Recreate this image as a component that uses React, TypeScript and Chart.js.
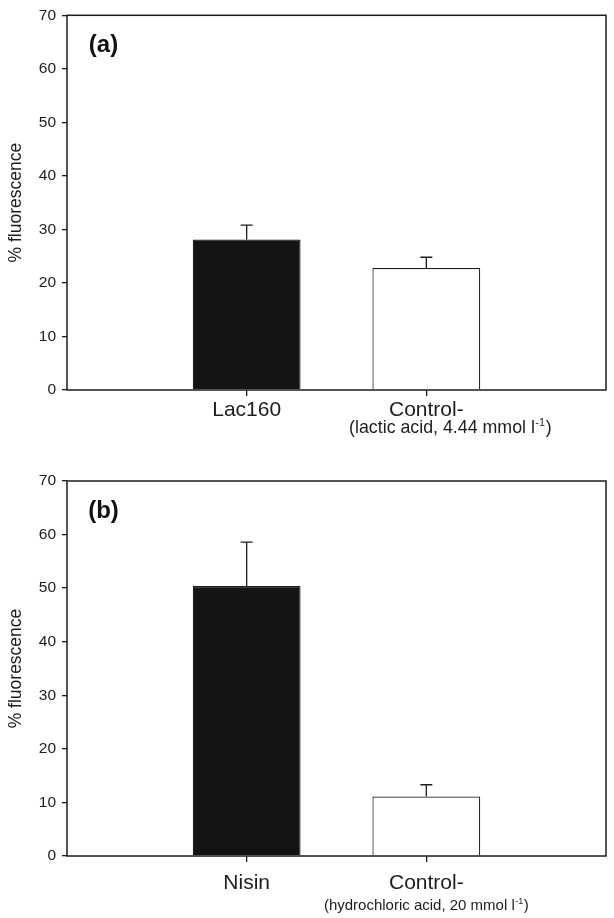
import React, { useEffect, useRef } from "react";
import { Chart, registerables } from "chart.js";

Chart.register(...registerables);

// ---------- data ----------
const categoriesA = ["Lac160", "Control-"];
const valuesA = [28.1, 22.8];
const errorsA = [2.7, 2.0];
const subLabelA = "(lactic acid, 4.44 mmol l";
const panelLabelA = "(a)";

const categoriesB = ["Nisin", "Control-"];
const valuesB = [50.4, 11.1];
const errorsB = [8.2, 2.2];
const subLabelB = "(hydrochloric acid, 20 mmol l";
const panelLabelB = "(b)";

const yTicks = [0, 10, 20, 30, 40, 50, 60, 70];
const yTitle = "% fluorescence";
const superscript = "-1";

const FAMILY = "'Liberation Sans', Arial, Helvetica, sans-serif";
const INK = "#1c1c1c";
const barColors = ["#141414", "#ffffff"];

type PanelProps = {
  top: number;
  height: number;
  padTop: number;
  xAxisH: number;
  labelPad: number;
  subOffset: number;
  subShift: number;
  subSize: number;
  categories: string[];
  values: number[];
  errors: number[];
  subLabel: string;
  panelLabel: string;
};

function Panel(p: PanelProps) {
  const ref = useRef<HTMLCanvasElement | null>(null);
  useEffect(() => {
    if (!ref.current) return;
    const overlay = {
      id: "overlay",
      afterDatasetsDraw(chart: any) {
        const ctx = chart.ctx;
        const ys = chart.scales.y;
        const meta = chart.getDatasetMeta(0);
        ctx.save();
        ctx.strokeStyle = INK;
        ctx.lineWidth = 1.3;
        meta.data.forEach((el: any, i: number) => {
          const v = p.values[i];
          const e = p.errors[i];
          const yBar = ys.getPixelForValue(v);
          const yTop = ys.getPixelForValue(v + e);
          ctx.beginPath();
          ctx.moveTo(el.x, yBar);
          ctx.lineTo(el.x, yTop);
          ctx.moveTo(el.x - 6, yTop);
          ctx.lineTo(el.x + 6, yTop);
          ctx.stroke();
        });
        ctx.restore();
      },
      afterDraw(chart: any) {
        const ctx = chart.ctx;
        const a = chart.chartArea;
        const xs = chart.scales.x;
        ctx.save();
        ctx.strokeStyle = INK;
        ctx.lineWidth = 1.5;
        ctx.strokeRect(a.left, a.top, a.right - a.left, a.bottom - a.top);
        // panel label
        ctx.fillStyle = "#111";
        ctx.font = `bold 24px ${FAMILY}`;
        ctx.textAlign = "center";
        ctx.textBaseline = "middle";
        ctx.fillText(p.panelLabel, a.left + 36.5, a.top + 30);
        // sub label under second category
        const mainFont = `${p.subSize}px ${FAMILY}`;
        const supFont = `${Math.round(p.subSize * 0.6)}px ${FAMILY}`;
        ctx.font = mainFont;
        const w1 = ctx.measureText(p.subLabel).width;
        const w3 = ctx.measureText(")").width;
        ctx.font = supFont;
        const w2 = ctx.measureText(superscript).width;
        const total = w1 + w2 + w3 + 1;
        const cx = xs.getPixelForValue(2) + p.subShift;
        const base = a.bottom + p.subOffset;
        let x = cx - total / 2;
        ctx.textAlign = "left";
        ctx.textBaseline = "alphabetic";
        ctx.fillStyle = INK;
        ctx.font = mainFont;
        ctx.fillText(p.subLabel, x, base);
        x += w1 + 0.5;
        ctx.font = supFont;
        ctx.fillText(superscript, x, base - p.subSize * 0.42);
        x += w2 + 0.5;
        ctx.font = mainFont;
        ctx.fillText(")", x, base);
        ctx.restore();
      },
    };
    const chart = new Chart(ref.current, {
      type: "bar",
      data: {
        datasets: [
          {
            data: p.values.map((v, i) => ({ x: i + 1, y: v })),
            backgroundColor: barColors,
            borderColor: INK,
            borderWidth: 1.2,
            barPercentage: 0.6,
            categoryPercentage: 1,
          },
        ],
      },
      options: {
        responsive: false,
        animation: false,
        devicePixelRatio: 1,
        layout: { padding: { top: p.padTop, right: 8, left: 0, bottom: 0 } },
        plugins: {
          legend: { display: false },
          tooltip: { enabled: false },
        },
        scales: {
          x: {
            type: "linear",
            min: 0,
            max: 3,
            offset: false,
            afterBuildTicks: (s: any) => {
              s.ticks = p.categories.map((_, i) => ({ value: i + 1 }));
            },
            afterFit: (s: any) => {
              s.height = p.xAxisH;
            },
            ticks: {
              callback: (v: any) => p.categories[Number(v) - 1] ?? "",
              font: { family: FAMILY, size: 21 },
              color: INK,
              padding: p.labelPad,
              maxRotation: 0,
              autoSkip: false,
            },
            grid: {
              display: true,
              offset: false,
              drawOnChartArea: false,
              drawTicks: true,
              tickLength: 6,
              color: INK,
              lineWidth: 1.3,
            },
            border: { display: false },
          },
          y: {
            type: "linear",
            min: 0,
            max: 70,
            afterBuildTicks: (s: any) => {
              s.ticks = yTicks.map((v) => ({ value: v }));
            },
            afterFit: (s: any) => {
              s.width = 67;
            },
            ticks: {
              font: { family: FAMILY, size: 15.5 },
              color: INK,
              padding: 6,
            },
            grid: {
              display: true,
              drawOnChartArea: false,
              drawTicks: true,
              tickLength: 5,
              color: INK,
              lineWidth: 1.3,
            },
            border: { display: false },
            title: {
              display: true,
              text: yTitle,
              font: { family: FAMILY, size: 17.5 },
              color: INK,
              padding: { top: 6, bottom: 0 },
            },
          },
        },
      } as any,
      plugins: [overlay],
    });
    return () => chart.destroy();
  }, []);
  return (
    <div style={{ position: "absolute", left: 0, top: p.top, width: 614, height: p.height }}>
      <canvas ref={ref} width={614} height={p.height} style={{ display: "block" }} />
    </div>
  );
}

export default function App() {
  return (
    <div style={{ position: "absolute", left: 0, top: 0, width: 614, height: 918, background: "#fff" }}>
      <Panel
        top={0}
        height={459}
        padTop={13}
        xAxisH={69}
        labelPad={2}
        subOffset={43}
        subShift={24}
        subSize={17.8}
        categories={categoriesA}
        values={valuesA}
        errors={errorsA}
        subLabel={subLabelA}
        panelLabel={panelLabelA}
      />
      <Panel
        top={459}
        height={459}
        padTop={22}
        xAxisH={62}
        labelPad={9}
        subOffset={54}
        subShift={0}
        subSize={15}
        categories={categoriesB}
        values={valuesB}
        errors={errorsB}
        subLabel={subLabelB}
        panelLabel={panelLabelB}
      />
    </div>
  );
}
